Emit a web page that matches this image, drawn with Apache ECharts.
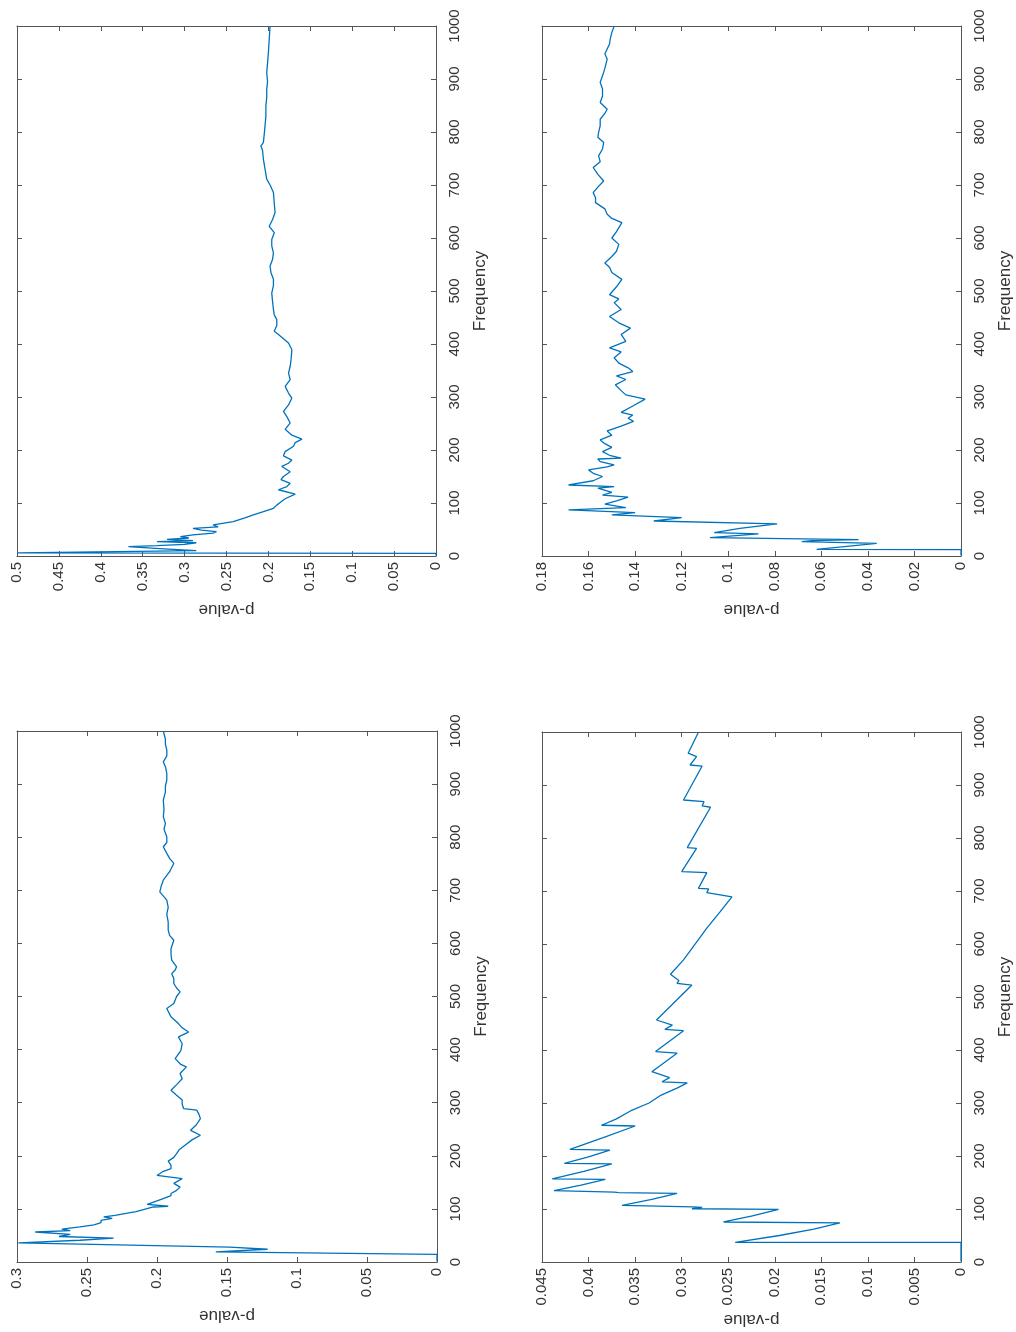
<!DOCTYPE html>
<html>
<head>
<meta charset="utf-8">
<script src="https://cdn.jsdelivr.net/npm/echarts/dist/echarts.min.js"></script>
<style>
  html, body { margin: 0; padding: 0; background: #ffffff; }
  #chart { width: 1016px; height: 1332px; }
</style>
</head>
<body>
<div id="chart"></div>
<script>
// Each series is a list of [frequency, p-value] samples.
const pvalTopLeft = [
  [1,0],[5,0],[6,0.5],[10,0.286],[14,0.33],[17.6,0.367],[19.5,0.333],[22,0.30],[25,0.286],[27,0.333],
  [29,0.29],[31.5,0.321],[34,0.295],[36.5,0.305],[40,0.29],[43,0.266],[46,0.262],[49,0.28],[52,0.29],
  [55,0.26],[58.6,0.266],[65,0.242],[72,0.228],[77.5,0.218],[84,0.205],[90,0.194],[96,0.19],[101,0.186],
  [108,0.18],[116.6,0.168],[125,0.188],[131,0.178],[137,0.174],[144,0.185],[150,0.182],[159,0.174],
  [169,0.184],[175,0.176],[181,0.172],[189,0.182],[197,0.18],[207,0.17],[214,0.168],[220.5,0.16],
  [228,0.172],[239,0.18],[251,0.174],[263,0.178],[273,0.182],[285,0.176],[298,0.172],[307.5,0.176],
  [320,0.18],[333,0.174],[345,0.176],[358,0.174],[370,0.173],[389,0.172],[402,0.176],[418,0.188],
  [424,0.193],[435,0.19],[446,0.19],[455,0.193],[465,0.194],[480,0.195],[496,0.196],[510,0.194],
  [522,0.194],[535,0.197],[547,0.198],[560,0.195],[572,0.194],[585,0.196],[597,0.196],[610,0.193],
  [622,0.199],[635,0.195],[648,0.192],[665,0.193],[686,0.194],[700,0.198],[711,0.202],[730,0.204],
  [749,0.206],[765,0.207],[774,0.209],[780,0.206],[795,0.205],[812,0.204],[830,0.203],[849,0.203],
  [865,0.202],[881,0.202],[895,0.201],[912,0.202],[930,0.201],[950,0.2],[975,0.199],[1000,0.198]
];

const pvalTopRight = [
  [1,0],[12,0],[12.6,0.062],[24,0.0362],[27,0.0684],[29,0.064],[31,0.044],[34.7,0.1078],[41.6,0.087],
  [44,0.106],[52,0.095],[60.5,0.079],[66,0.132],[72.5,0.12],[77.5,0.15],[82,0.14],[87,0.1686],
  [91.4,0.144],[97.7,0.153],[104,0.148],[111,0.143],[115,0.154],[120,0.15],[128,0.156],[131,0.149],
  [134,0.1686],[142,0.158],[150,0.154],[156,0.158],[162.5,0.16],[168,0.152],[172,0.149],[178,0.155],
  [183,0.156],[184.6,0.146],[190,0.151],[197,0.154],[205,0.15],[212,0.153],[219,0.155],[228,0.15],
  [236,0.152],[245,0.146],[254,0.1407],[260,0.143],[266,0.141],[271,0.146],[283,0.141],[296,0.1357],
  [304,0.144],[312,0.146],[323,0.1485],[333,0.144],[340,0.148],[348,0.141],[355,0.143],[364,0.147],
  [374,0.149],[385,0.146],[392.6,0.151],[405,0.144],[418,0.146],[430,0.142],[440,0.147],[452,0.151],
  [465,0.146],[478,0.149],[485,0.147],[493,0.151],[508,0.148],[522,0.1457],[535,0.15],[545,0.151],
  [553,0.153],[565,0.15],[575,0.148],[588,0.147],[600,0.15],[612,0.148],[629,0.1457],[637,0.15],
  [644.6,0.152],[655,0.153],[666.7,0.157],[676,0.157],[685.6,0.158],[696,0.156],[707.6,0.1535],
  [720,0.156],[733,0.158],[744,0.155],[755,0.1557],[768,0.154],[780,0.1535],[790,0.156],[799,0.1557],
  [812,0.155],[824,0.155],[835,0.153],[843,0.152],[855.7,0.155],[868,0.154],[881,0.154],[894,0.155],
  [906,0.154],[920,0.153],[937.6,0.152],[947,0.153],[956.5,0.152],[966,0.151],[975.4,0.1507],
  [988,0.15],[1000,0.149]
];

const pvalBottomLeft = [
  [1,0],[14.5,0],[19,0.158],[24,0.121],[28,0.148],[36,0.299],[41,0.255],[45,0.231],[48,0.27],[52,0.262],
  [56.5,0.287],[59,0.262],[62,0.268],[66,0.255],[70,0.245],[74,0.24],[78.5,0.24],[82,0.232],[85,0.238],
  [88,0.23],[95,0.215],[103.6,0.2026],[105,0.192],[108.7,0.207],[118,0.197],[125,0.19],[129,0.19],
  [135,0.186],[141,0.1835],[148,0.188],[157,0.182],[163,0.2],[170,0.196],[176,0.19],[182,0.19],
  [190,0.192],[197,0.188],[204,0.186],[212,0.184],[220,0.18],[230,0.175],[238.7,0.169],[248,0.176],
  [258,0.172],[270,0.169],[278,0.17],[286,0.1716],[289,0.181],[297,0.182],[305,0.182],[314,0.186],
  [323.5,0.19],[334,0.186],[345,0.182],[355,0.1835],[367.5,0.179],[372,0.183],[383,0.187],[398,0.183],
  [411,0.182],[424,0.1847],[433,0.1775],[441,0.182],[449,0.1847],[461.7,0.19],[477.4,0.193],[487,0.188],
  [500,0.186],[508.8,0.1835],[516,0.186],[524.5,0.188],[534,0.188],[543,0.1895],[550,0.187],[556,0.186],
  [568.5,0.1895],[580,0.19],[590,0.19],[606,0.188],[615,0.191],[625,0.192],[640,0.192],[655,0.193],
  [668,0.192],[681.5,0.193],[697,0.198],[708,0.197],[719,0.1955],[735,0.191],[750.6,0.188],[760,0.191],
  [769.5,0.193],[782,0.1955],[790,0.193],[801,0.193],[815,0.195],[826,0.194],[838.5,0.1955],[852,0.195],
  [870,0.1955],[885,0.194],[896,0.194],[907.7,0.193],[920,0.193],[932.8,0.194],[942,0.1955],[953,0.193],
  [964,0.193],[975,0.194],[985,0.194],[1000,0.1955]
];

const pvalBottomRight = [
  [1,0],[37,0],[37.1,0.02425],[50,0.0195],[62,0.0158],[74,0.013],[75.5,0.0255],[87,0.0224],[99.4,0.0196],
  [100.5,0.0289],[103,0.0278],[104,0.0288],[107,0.0364],[118,0.0332],[129.6,0.0305],[131,0.0368],
  [132,0.0372],[134.6,0.0437],[145,0.0408],[156,0.0382],[157,0.0439],[171,0.0405],[185,0.0375],
  [186,0.0426],[198,0.0401],[211,0.0377],[212.6,0.042],[234,0.0385],[256.6,0.035],[258,0.0386],
  [270,0.037],[285,0.0355],[300,0.0335],[315,0.0322],[328,0.0305],[338,0.0294],[340,0.0321],
  [348,0.0313],[359,0.0332],[394,0.0305],[397,0.0328],[436.5,0.0298],[439,0.0318],[447,0.031],
  [456.6,0.0327],[522.6,0.0289],[525.8,0.0305],[531,0.0303],[543,0.0312],[570,0.0298],[601,0.0285],
  [630,0.0273],[660,0.0259],[689,0.0246],[697,0.0273],[704,0.0271],[705,0.0282],[734.6,0.0273],
  [736.5,0.03],[780.5,0.0284],[781.8,0.0294],[858,0.0269],[860.5,0.0278],[868.5,0.0276],[871.7,0.0298],
  [935.8,0.0278],[937.7,0.0291],[953.5,0.0284],[960,0.0293],[999.4,0.0282]
];

const freqMax = 1000;
const freqStep = 100;

const panels = [
  { series: pvalTopLeft,     pMax: 0.5,   pStep: 0.05,  grid: { left: 17,  top: 26,  width: 419, height: 530 }, nameGap: 45 },
  { series: pvalTopRight,    pMax: 0.18,  pStep: 0.02,  grid: { left: 542, top: 26,  width: 419, height: 530 }, nameGap: 45 },
  { series: pvalBottomLeft,  pMax: 0.3,   pStep: 0.05,  grid: { left: 17,  top: 731, width: 420, height: 531 }, nameGap: 45 },
  { series: pvalBottomRight, pMax: 0.045, pStep: 0.005, grid: { left: 542, top: 732, width: 419, height: 530 }, nameGap: 49 }
];

const axisColor = '#555555';
const textColor = '#333333';
const lineColor = '#0072BD';
const font = 'Liberation Sans, Arial, sans-serif';
const fmtP = v => String(+v.toFixed(4));
const fmtF = v => String(Math.round(v));

const grids = [], xAxes = [], yAxes = [], seriesList = [];

panels.forEach((p, i) => {
  grids.push(Object.assign({ outerBoundsMode: 'none', containLabel: false }, p.grid));

  const baseTick = { show: true, inside: true, length: 5, lineStyle: { color: axisColor, width: 1 } };
  const baseLine = { show: true, onZero: false, lineStyle: { color: axisColor, width: 1 } };

  // p-value axis (drawn horizontally, largest value on the left)
  xAxes.push({
    type: 'value', gridIndex: i, position: 'bottom', inverse: true,
    min: 0, max: p.pMax, interval: p.pStep,
    axisLine: baseLine, axisTick: baseTick, splitLine: { show: false },
    axisLabel: { rotate: 90, margin: 6, color: textColor, fontSize: 15, fontFamily: font, formatter: fmtP },
    name: 'p-value', nameLocation: 'middle', nameGap: p.nameGap, nameRotate: 180, nameMoveOverlap: false,
    nameTextStyle: { color: textColor, fontSize: 17, fontFamily: font }
  });
  xAxes.push({
    type: 'value', gridIndex: i, position: 'top', inverse: true,
    min: 0, max: p.pMax, interval: p.pStep,
    axisLine: baseLine, axisTick: baseTick, splitLine: { show: false },
    axisLabel: { show: false }
  });

  // Frequency axis (drawn vertically on the right)
  yAxes.push({
    type: 'value', gridIndex: i, position: 'right',
    min: 0, max: freqMax, interval: freqStep,
    axisLine: baseLine, axisTick: baseTick, splitLine: { show: false },
    axisLabel: { rotate: 90, margin: 11, color: textColor, fontSize: 15, fontFamily: font, formatter: fmtF },
    name: 'Frequency', nameLocation: 'middle', nameGap: 36, nameRotate: 90, nameMoveOverlap: false,
    nameTextStyle: { color: textColor, fontSize: 17, fontFamily: font }
  });
  yAxes.push({
    type: 'value', gridIndex: i, position: 'left',
    min: 0, max: freqMax, interval: freqStep,
    axisLine: baseLine, axisTick: baseTick, splitLine: { show: false },
    axisLabel: { show: false }
  });

  seriesList.push({
    type: 'line',
    xAxisIndex: 2 * i, yAxisIndex: 2 * i,
    data: p.series,
    encode: { x: 1, y: 0 },
    symbol: 'none', showSymbol: false, smooth: false, clip: true,
    lineStyle: { color: lineColor, width: 1.3 },
    silent: true
  });
});

const chart = echarts.init(document.getElementById('chart'), null, { renderer: 'canvas' });
chart.setOption({
  backgroundColor: '#ffffff',
  animation: false,
  grid: grids,
  xAxis: xAxes,
  yAxis: yAxes,
  series: seriesList
});
</script>
</body>
</html>
